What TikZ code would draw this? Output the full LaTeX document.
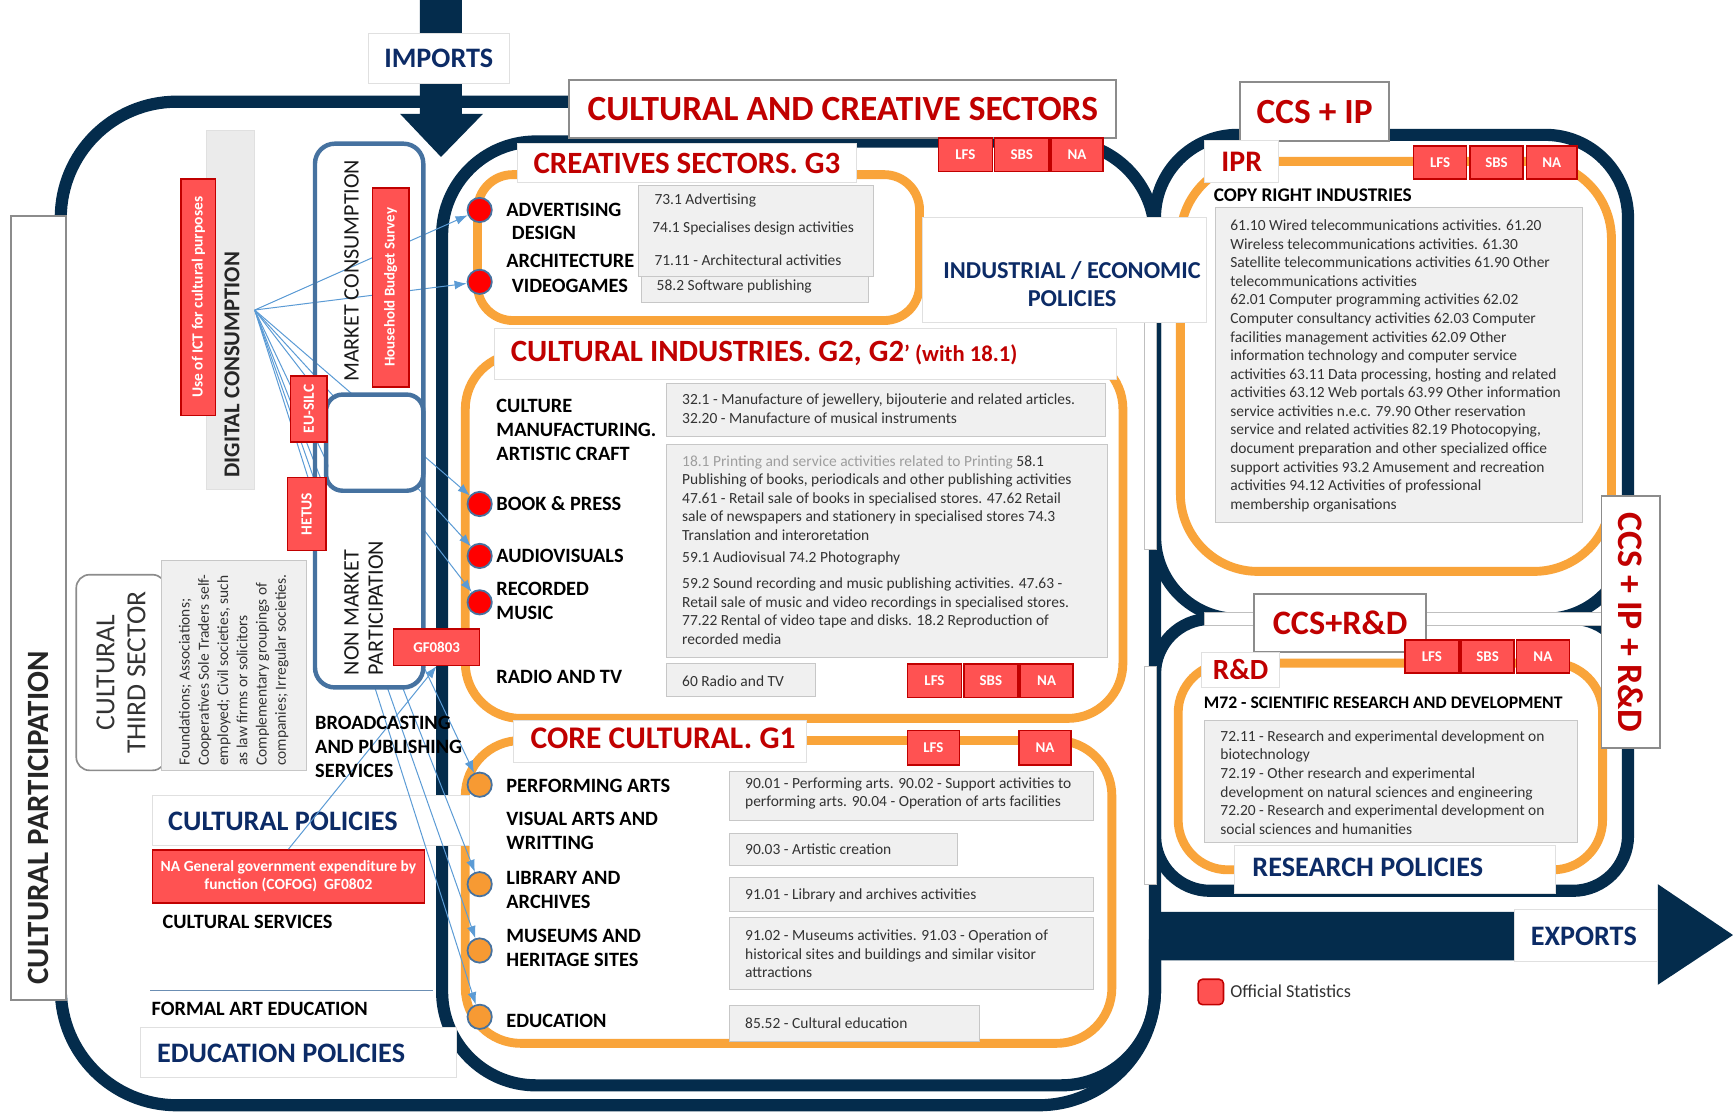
\documentclass[tikz,border=0pt]{standalone}
\usepackage{fontspec}
\setmainfont{Carlito}
\usetikzlibrary{arrows.meta}
\definecolor{navy}{HTML}{042C4C}
\definecolor{orng}{HTML}{F9A43A}
\definecolor{redfill}{HTML}{FF5252}
\definecolor{redline}{HTML}{C00000}
\definecolor{tred}{HTML}{C00000}
\definecolor{pblue}{HTML}{0C2B66}
\definecolor{steel}{HTML}{4672A0}
\definecolor{lblue}{HTML}{5B9BD5}
\definecolor{grayfill}{HTML}{F0F0F0}
\definecolor{dcfill}{HTML}{EBEBEB}
\definecolor{dotred}{HTML}{FF0000}
\definecolor{dotor}{HTML}{F79A33}
\newcommand{\cbox}[7]{\node[#1, minimum width=#5pt, minimum height=#6pt] (#2) at (#3,#4) {#7};}
\begin{document}
\begin{tikzpicture}[x=1pt,y=-1pt,
  frame/.style={draw=navy, line width=11pt},
  oframe/.style={draw=orng, line width=8pt},
  tbox/.style={draw=black!45, line width=1.8pt, fill=white, inner sep=0pt},
  wbox/.style={draw=black!12, line width=0.9pt, fill=white, inner sep=0pt},
  gbox/.style={draw=black!22, line width=0.9pt, fill=grayfill, inner sep=0pt},
  redbox/.style={draw=redline, line width=1.4pt, fill=redfill, inner sep=0pt, text=white, font=\fontsize{13.5}{16}\selectfont\bfseries},
  rdot/.style={circle, draw=steel, line width=1.6pt, fill=dotred, minimum size=22pt, inner sep=0pt},
  odot/.style={circle, draw=steel, line width=1.6pt, fill=dotor, minimum size=22pt, inner sep=0pt},
  lbl/.style={inner sep=0pt, anchor=west, align=left, font=\fontsize{18.4}{21.5}\selectfont\bfseries, text=black},
  codetxt/.style={inner sep=0pt, anchor=west, align=left, font=\fontsize{14}{16.8}\selectfont, text=black!80},
  ttl/.style={inner sep=0pt, text=tred, font=\fontsize{28}{32}\selectfont\bfseries},
  pol/.style={inner sep=0pt, text=pblue, font=\fontsize{25.5}{29}\selectfont\bfseries},
  conn/.style={draw=lblue, line width=0.9pt, -{Latex[length=11pt,width=8pt]}},
  wtxt/.style={inner sep=0pt, text=white, font=\fontsize{14}{16}\selectfont\bfseries},
]
\useasboundingbox (0,0) rectangle (1568,1006);
\fill[white] (0,0) rectangle (1568,1006);

% imports arrow
\fill[navy] (380,0) -- (418,0) -- (418,103) -- (437,103) -- (399,142) -- (362,103) -- (380,103) -- cycle;

% navy frames
\draw[frame, rounded corners=105pt] (600,92) -- (55,92) -- (55,1000) -- (1045,1000) -- (1045,850);
\draw[frame, rounded corners=85pt] (400,128) rectangle (1045,982);
\draw[frame, rounded corners=75pt] (1045,122) rectangle (1473,560);
\draw[frame, rounded corners=50pt] (1045,560) rectangle (1473,806);

% exports arrow
\fill[navy] (1040,825) -- (1500,825) -- (1500,800) -- (1568,846) -- (1500,891) -- (1500,869) -- (1040,869) -- cycle;

% orange frames
\draw[oframe, rounded corners=32pt] (432,158) rectangle (832,290);
\draw[oframe, rounded corners=50pt] (421,320) rectangle (1016,650);
\draw[oframe, rounded corners=50pt] (421,670) rectangle (1006,944);
\draw[oframe, rounded corners=70pt] (1068,146) rectangle (1458,517);
\draw[oframe, rounded corners=45pt] (1066,600) rectangle (1450,787);

% white strips
\draw[draw=black!25, fill=white, line width=0.6pt] (1035,292) rectangle (1046,497);
\draw[draw=black!25, fill=white, line width=0.6pt] (1035,603) rectangle (1046,800);
\draw[draw=black!25, fill=white, line width=0.6pt] (1090,554) rectangle (1450,566);

% title and policy boxes
\cbox{wbox}{imports}{397}{53}{128}{46}{}
\node[pol] (importsT) at (imports) {IMPORTS};
\cbox{tbox}{ccs}{762.5}{98.5}{495}{53}{}
\node[ttl, font=\fontsize{32}{36}\selectfont\bfseries] (ccsT) at (ccs) {CULTURAL AND CREATIVE SECTORS};
\cbox{wbox}{crt}{621.5}{147.5}{307}{35}{}
\node[ttl] (crtT) at (crt) {CREATIVES SECTORS. G3};
\cbox{wbox}{cit}{728.5}{320}{563}{46}{}
\node[ttl, anchor=west] (citT) at (462,320) {CULTURAL INDUSTRIES. G2, G2{\fontsize{20.5}{22}\selectfont’ (with 18.1)}};
\cbox{wbox}{cct}{597.5}{671}{265}{38}{}
\node[ttl, anchor=west, font=\fontsize{28.5}{32}\selectfont\bfseries] (cctT) at (480,668) {CORE CULTURAL. G1};
\cbox{wbox}{iep}{963.5}{244.5}{257}{95}{}
\node[pol, align=center, font=\fontsize{22}{26}\selectfont\bfseries] (iepT) at (970,257) {INDUSTRIAL / ECONOMIC\\POLICIES};
\cbox{tbox}{ccsip}{1189.5}{101}{135}{54}{}
\node[ttl, font=\fontsize{32}{36}\selectfont\bfseries] (ccsipT) at (ccsip) {CCS + IP};
\cbox{wbox}{iprt}{1123.5}{146}{67}{38}{}
\node[ttl, font=\fontsize{27}{30}\selectfont\bfseries] (iprT) at (iprt) {IPR};
\cbox{tbox}{ccsiprd}{1475.5}{563}{53}{228}{}
\node[ttl, rotate=-90, font=\fontsize{32.5}{36}\selectfont\bfseries] (ccsiprdT) at (ccsiprd) {CCS + IP + R\&D};
\cbox{tbox}{ccsrd}{1212.5}{563.5}{155}{53}{}
\node[ttl, font=\fontsize{31}{35}\selectfont\bfseries] (ccsrdT) at (ccsrd) {CCS+R\&D};
\cbox{wbox}{rdt}{1122.5}{606}{71}{32}{}
\node[ttl, font=\fontsize{26.5}{30}\selectfont\bfseries] (rdT) at (rdt) {R\&D};
\cbox{wbox}{rp}{1262}{786.5}{290}{43}{}
\node[pol, anchor=west] (rpT) at (1133,785) {RESEARCH POLICIES};
\cbox{wbox}{exp}{1435}{846.5}{130}{47}{}
\node[pol] (expT) at (1433,847) {EXPORTS};
\cbox{wbox}{cp}{281.5}{742.5}{287}{45}{}
\node[pol, anchor=west] (cpT) at (152,743) {CULTURAL POLICIES};
\cbox{wbox}{ep}{270}{952.5}{286}{45}{}
\node[pol, anchor=west] (epT) at (142,953) {EDUCATION POLICIES};

% left boxes
\cbox{tbox}{cpart}{35}{550}{50}{710}{}
\node[rotate=90, inner sep=0pt, font=\fontsize{28}{32}\selectfont\bfseries, text=black!85] (cpartT) at (35,740) {CULTURAL PARTICIPATION};
\node[draw=black!45, line width=1.5pt, fill=white, rounded corners=12pt, minimum width=81pt, minimum height=177pt, inner sep=0pt] (third) at (109.5,608.5) {};
\node[rotate=90, inner sep=0pt, align=center, font=\fontsize{25}{28}\selectfont, text=black!80] (thirdT) at (third) {CULTURAL\\THIRD SECTOR};
\cbox{gbox}{found}{211.5}{602}{131}{190}{}
\node[rotate=90, codetxt, font=\fontsize{14}{17.4}\selectfont] (foundT) at (211.5,693) {Foundations; Associations;\\Cooperatives Sole Traders self-\\employed; Civil societies, such\\as law firms or solicitors\\Complementary groupings of\\companies; Irregular societies.};
\cbox{gbox, fill=dcfill, draw=black!12}{dc}{208.5}{280.5}{43}{325}{}
\node[rotate=90, inner sep=0pt, font=\fontsize{20.5}{24}\selectfont\bfseries, text=black!85] (dcT) at (210,330) {DIGITAL CONSUMPTION};

% gray code boxes
\cbox{gbox}{cs1}{684}{209}{212}{82}{}
\cbox{gbox}{cs2}{683}{262}{206}{24}{}
\node[codetxt] (cs1a) at (592,181) {73.1 Advertising};
\node[codetxt] (cs1b) at (590,207) {74.1 Specialises design activities};
\node[codetxt] (cs1c) at (592,235) {71.11 - Architectural activities};
\node[codetxt] (cs2a) at (594,259) {58.2 Software publishing};

\cbox{gbox}{ci1}{801.5}{371}{397}{48}{}
\cbox{gbox}{ci2}{802.5}{498.5}{399}{193}{}
\cbox{gbox}{ci3}{670.5}{615}{135}{30}{}
\node[codetxt] (ci1a) at (617,370) {32.1 - Manufacture of jewellery, bijouterie and related articles.\\32.20 - Manufacture of musical instruments};
\node[codetxt] (ci2a) at (617,450.5) {{\color{black!38}18.1 Printing and service activities related to Printing} 58.1\\Publishing of books, periodicals and other publishing activities\\47.61 - Retail sale of books in specialised stores. 47.62 Retail\\sale of newspapers and stationery in specialised stores 74.3\\Translation and interoretation};
\node[codetxt] (ci2b) at (617,505) {59.1 Audiovisual 74.2 Photography};
\node[codetxt] (ci2c) at (617,553) {59.2 Sound recording and music publishing activities. 47.63 -\\Retail sale of music and video recordings in specialised stores.\\77.22 Rental of video tape and disks. 18.2 Reproduction of\\recorded media};
\node[codetxt] (ci3a) at (617,616) {60 Radio and TV};

\cbox{gbox}{cc1}{824.5}{720}{329}{44}{}
\cbox{gbox}{cc2}{763}{768.5}{206}{29}{}
\cbox{gbox}{cc3}{824.5}{809.5}{329}{31}{}
\cbox{gbox}{cc4}{824.5}{862.5}{329}{65}{}
\cbox{gbox}{cc5}{773}{926}{226}{32}{}
\node[codetxt] (cc1a) at (674,718) {90.01 - Performing arts. 90.02 - Support activities to\\performing arts. 90.04 - Operation of arts facilities};
\node[codetxt] (cc2a) at (674,768) {90.03 - Artistic creation};
\node[codetxt] (cc3a) at (674,810) {91.01 - Library and archives activities};
\node[codetxt] (cc4a) at (674,863) {91.02 - Museums activities. 91.03 - Operation of\\historical sites and buildings and similar visitor\\attractions};
\node[codetxt] (cc5a) at (674,926) {85.52 - Cultural education};

\cbox{gbox}{iprbox}{1266}{330.5}{332}{285}{}
\node[codetxt] (iprtxt) at (1113,331) {61.10 Wired telecommunications activities. 61.20\\Wireless telecommunications activities. 61.30\\Satellite telecommunications activities 61.90 Other\\telecommunications activities\\62.01 Computer programming activities 62.02\\Computer consultancy activities 62.03 Computer\\facilities management activities 62.09 Other\\information technology and computer service\\activities 63.11 Data processing, hosting and related\\activities 63.12 Web portals 63.99 Other information\\service activities n.e.c. 79.90 Other reservation\\service and related activities 82.19 Photocopying,\\document preparation and other specialized office\\support activities 93.2 Amusement and recreation\\activities 94.12 Activities of professional\\membership organisations};
\cbox{gbox}{rdbox}{1258.5}{707}{337}{110}{}
\node[codetxt] (rdtxt) at (1104,708) {72.11 - Research and experimental development on\\biotechnology\\72.19 - Other research and experimental\\development on natural sciences and engineering\\72.20 - Research and experimental development on\\social sciences and humanities};

% dots
\node[rdot] (dadv) at (434,190) {};
\node[rdot] (dvid) at (434,255) {};
\node[rdot] (dbook) at (434,456) {};
\node[rdot] (daud) at (434,503) {};
\node[rdot] (dmus) at (434,545) {};
\node[odot] (dperf) at (434,710) {};
\node[odot] (dlib) at (434,800) {};
\node[odot] (dmuse) at (434,860) {};
\node[odot] (dedu) at (434,920) {};

% connectors
\foreach \d in {dadv,dvid,dbook,daud,dmus,dperf,dlib,dmuse,dedu}
  \draw[conn] (dc.east) -- (\d);

% market / non market boxes
\fill[white, rounded corners=16pt] (287,444) rectangle (381,620);
\fill[white, rounded corners=14pt] (297,359) rectangle (381,446);
\draw[steel, line width=4pt, rounded corners=18pt] (285,130) rectangle (383,622);
\draw[steel, line width=4pt, rounded corners=15pt] (295,357) rectangle (383,444);
\node[rotate=90, inner sep=0pt, font=\fontsize{20}{22}\selectfont, text=black!90] (mcT) at (318,245) {MARKET CONSUMPTION};
\node[rotate=90, inner sep=0pt, anchor=west, align=left, font=\fontsize{20}{22}\selectfont, text=black!90] (nmT) at (329,611) {NON MARKET\\PARTICIPATION};

% red boxes
\cbox{redbox}{ict}{179.5}{269}{31}{214}{}
\node[wtxt, rotate=90] (ictT) at (ict) {Use of ICT for cultural purposes};
\cbox{redbox}{hbs}{353.5}{260}{33}{180}{}
\node[wtxt, rotate=90, font=\fontsize{13.5}{16}\selectfont\bfseries] (hbsT) at (hbs) {Household Budget Survey};
\cbox{redbox}{eusilc}{279.5}{370}{33}{60}{}
\node[wtxt, rotate=90] (eusilcT) at (eusilc) {EU-SILC};
\cbox{redbox}{hetus}{277.5}{465}{35}{66}{}
\node[wtxt, rotate=90] (hetusT) at (hetus) {HETUS};
\cbox{redbox}{gf}{395}{585.5}{78}{33}{GF0803}
\cbox{redbox}{nagov}{261}{793}{246}{48}{}
\node[wtxt, align=center, font=\fontsize{14}{16}\selectfont\bfseries] (nagovT) at (nagov) {NA General government expenditure by\\function (COFOG)\ \ GF0802};
\cbox{redbox}{lfsA}{873.5}{140}{49}{30}{LFS}
\cbox{redbox}{sbsA}{924.5}{140}{49}{30}{SBS}
\cbox{redbox}{naA}{974.5}{140}{47}{30}{NA}
\cbox{redbox}{lfsB}{845.5}{616}{49}{30}{LFS}
\cbox{redbox}{sbsB}{896.5}{616}{49}{30}{SBS}
\cbox{redbox}{naB}{947}{616}{48}{30}{NA}
\cbox{redbox}{lfsC}{844.5}{676.5}{47}{31}{LFS}
\cbox{redbox}{naC}{945.5}{676.5}{47}{31}{NA}
\cbox{redbox}{lfsD}{1303}{147}{48}{30}{LFS}
\cbox{redbox}{sbsD}{1354}{147}{48}{30}{SBS}
\cbox{redbox}{naD}{1404}{147}{46}{30}{NA}
\cbox{redbox}{lfsE}{1295.5}{594}{49}{30}{LFS}
\cbox{redbox}{sbsE}{1346}{594}{48}{30}{SBS}
\cbox{redbox}{naE}{1396}{594}{48}{30}{NA}
\node[redbox, rounded corners=4pt, minimum size=23pt] (leg) at (1095.5,897.5) {};

\draw[conn] (nagov.north) -- (gf.south);

% labels
\node[lbl] (l1) at (458,190) {ADVERTISING};
\node[lbl] (l2) at (463,211) {DESIGN};
\node[lbl] (l3) at (458,236) {ARCHITECTURE};
\node[lbl] (l4) at (463,259) {VIDEOGAMES};
\node[lbl] (l5) at (449,389) {CULTURE\\MANUFACTURING.\\ARTISTIC CRAFT};
\node[lbl] (l6) at (449,456) {BOOK \& PRESS};
\node[lbl] (l7) at (449,503) {AUDIOVISUALS};
\node[lbl] (l8) at (449,543.5) {RECORDED\\MUSIC};
\node[lbl] (l9) at (449,612) {RADIO AND TV};
\node[lbl] (l10) at (458,711) {PERFORMING ARTS};
\node[lbl] (l11) at (458,751.5) {VISUAL ARTS AND\\WRITTING};
\node[lbl] (l12) at (458,805.5) {LIBRARY AND\\ARCHIVES};
\node[lbl] (l13) at (458,857.5) {MUSEUMS AND\\HERITAGE SITES};
\node[lbl] (l14) at (458,924) {EDUCATION};
\node[lbl] (l15) at (285,676) {BROADCASTING\\AND PUBLISHING\\SERVICES};
\node[lbl] (l16) at (147,834) {CULTURAL SERVICES};
\node[lbl] (l17) at (137,913) {FORMAL ART EDUCATION};
\draw[steel!80, line width=1.3pt] (136,896) -- (392,896);
\node[lbl, font=\fontsize{17.5}{20}\selectfont\bfseries] (l18) at (1098,177) {COPY RIGHT INDUSTRIES};
\node[lbl, font=\fontsize{16}{19}\selectfont\bfseries] (l19) at (1089,636) {M72 - SCIENTIFIC RESEARCH AND DEVELOPMENT};
\node[inner sep=0pt, anchor=west, font=\fontsize{16.5}{19}\selectfont, text=black!80] (legT) at (1113,897) {Official Statistics};
\end{tikzpicture}
\end{document}
